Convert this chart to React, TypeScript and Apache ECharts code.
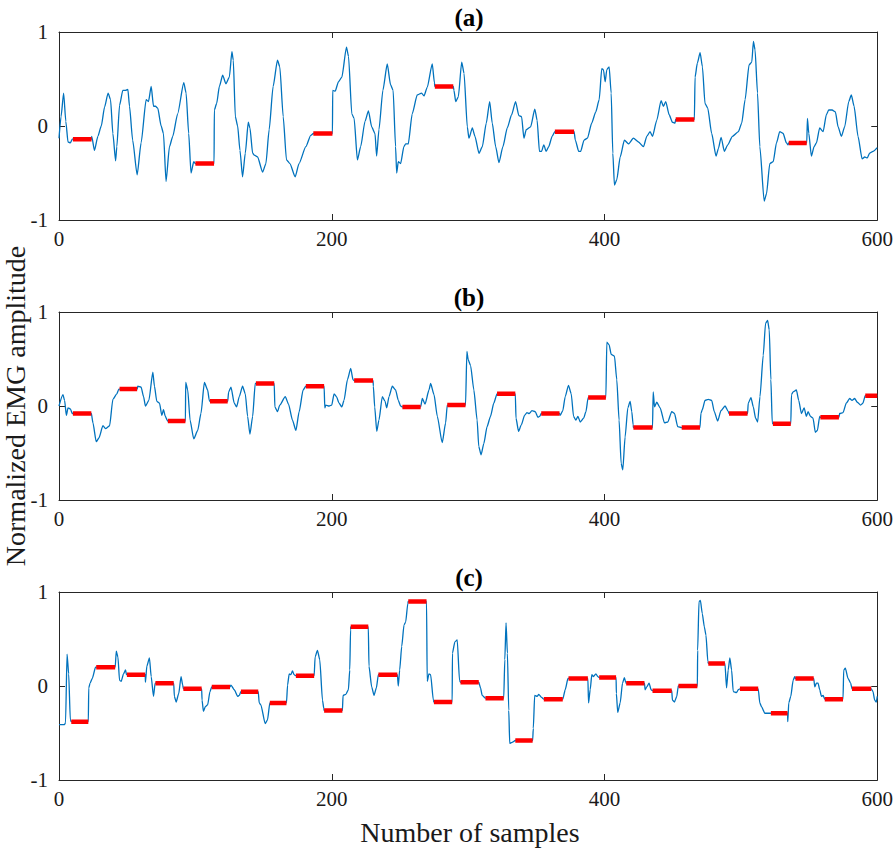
import React, { useEffect, useRef } from "react";
import * as echarts from "echarts";

const panelTitles = ["(a)", "(b)", "(c)"];
const xTitle = "Number of samples";
const yTitle = "Normalized EMG amplitude";
const xRange = [0, 600];
const xStep = 200;
const yRange = [-1, 1];
const yStep = 1;

const blueA: number[][] = [
  [0, -0.13], [1.5, 0.1], [3.4, 0.35], [5, 0.05], [6.6, -0.17], [8.3, -0.18], [9.8, -0.14],
  [10.2, -0.14], [23.9, -0.14],
  [24, -0.11], [26, -0.26], [28.5, -0.11], [31, 0], [33.4, 0.2], [36, 0.35], [37.8, 0.28], [39.5, -0.08], [41.5, -0.37], [42.4, -0.22], [44.4, 0.22], [46.8, 0.38], [48.8, 0.38], [50.5, 0.39], [51.7, 0.21], [54, -0.15], [57.3, -0.52], [60.2, -0.18], [63.9, 0.28], [65.6, 0.26], [67.6, 0.42], [69.3, 0.21], [70.7, 0.21], [72.4, 0.19], [74.9, 0], [76.6, -0.08], [78.5, -0.59], [81, -0.22], [83.4, -0.11], [87, 0.13], [91.5, 0.46], [93.2, 0.35], [95.1, -0.08], [96.8, -0.5], [98.8, -0.38],
  [100, -0.4], [113.7, -0.4],
  [113.9, 0.17], [115.6, 0.24], [117.6, 0.42], [120, 0.54], [122.4, 0.45], [124.9, 0.52], [126.8, 0.79], [127.8, 0.7], [129.3, 0.1], [131, 0], [132.7, -0.26], [134.6, -0.54], [136.6, -0.29], [138.8, 0.04], [140, -0.02], [142, -0.29], [143.2, -0.31], [145.6, -0.33], [149.3, -0.49], [151.7, -0.4], [154.1, -0.04], [157, 0.42], [160.2, 0.7], [161.9, 0.63], [164.4, 0.1], [166.8, -0.36], [169.3, -0.4], [173.2, -0.54], [176, -0.4], [181, -0.22], [184.6, -0.1],
  [186.5, -0.08], [200.5, -0.08],
  [200.7, 0.38], [202.5, 0.37], [204.9, 0.47], [207.4, 0.52], [210.8, 0.84], [212.3, 0.74], [214.7, 0.13], [216.4, 0.08], [218.8, -0.36], [221.2, -0.22], [224.4, 0.05], [226.9, 0.16], [229.3, -0.01], [231.7, -0.08], [232.9, -0.32], [234.6, -0.04], [237.5, 0.38], [240.7, 0.66], [243.1, 0.44], [245, 0.38], [246.8, -0.22], [247.6, -0.5], [248.8, -0.38], [250.5, -0.4], [252.9, -0.22], [254.2, -0.19], [256.1, -0.19], [259, 0.13], [262.7, 0.33], [265.9, 0.35], [267.6, 0.32], [270, 0.41], [273.7, 0.66], [275.3, 0.46],
  [275.6, 0.42], [289.1, 0.42],
  [289.6, 0.38], [290.9, 0.26], [292.8, 0.31], [295.3, 0.68], [297, 0.56], [299.4, -0.01], [300.6, -0.13], [303.1, -0.02], [305, -0.11], [308, -0.29], [310.4, -0.22], [313.3, 0.03], [315.8, 0.26], [317.7, 0.03], [320.2, -0.22], [322.6, -0.39], [325.5, -0.22], [328.7, -0.02], [331.9, 0.12], [334.8, 0.26], [337.2, 0.11], [339.2, 0.1], [340.9, -0.13], [342.6, -0.04], [345.8, -0.01], [348.9, 0.18], [350.6, 0.06], [352.3, -0.27], [353.8, -0.27], [355.5, -0.2], [357.2, -0.27], [359.1, -0.22], [361.6, -0.11],
  [363.6, -0.06], [377.7, -0.06],
  [378.6, -0.15], [381.1, -0.27], [382.5, -0.27], [385, -0.15], [387.5, -0.13], [390.6, 0.03], [393.6, 0.15], [396.1, 0.28], [398, 0.61], [399.2, 0.6], [400.5, 0.47], [401.7, 0.6], [403.4, 0.63], [404.9, 0.35], [406.1, -0.29], [407.3, -0.63], [409, -0.57], [411.5, -0.33], [414.6, -0.15], [417.6, -0.19], [421.2, -0.13], [424.9, -0.17], [428.6, -0.22], [431, -0.11], [433.4, -0.06], [435.2, -0.11], [438.3, 0.06], [441.5, 0.27], [443.2, 0.21], [444.9, 0.26], [447.4, 0.12], [449.8, 0.04], [451.7, 0.03],
  [452.2, 0.07], [465.9, 0.07],
  [466.4, 0.52], [468.1, 0.67], [470.1, 0.78], [471.8, 0.63], [473.7, 0.24], [475.7, 0.19], [478.6, -0.08], [481.8, -0.32], [483.5, -0.24], [485.5, -0.12], [487.9, -0.27], [490.4, -0.2], [493.8, -0.11], [498.2, -0.06], [500.6, 0.03], [503.1, 0.28], [506, 0.65], [508, 0.68], [509.2, 0.9], [510.4, 0.81], [512.2, 0.35], [513.9, -0.22], [517.1, -0.8], [518.8, -0.72], [521.2, -0.4], [523.7, -0.38], [526.1, -0.18], [528.5, -0.06], [531, -0.08], [533.4, -0.18], [534.6, -0.2],
  [535.1, -0.18], [548.3, -0.18],
  [548.8, 0.08], [549.8, -0.08], [551.7, -0.32], [553.7, -0.22], [555.4, -0.18], [557.8, -0.02], [560.3, -0.06], [562.7, 0.12], [564.4, 0.17], [566.9, 0.17], [569.3, 0.15], [571.3, -0.01], [573.7, -0.11], [576.1, -0.01], [579.1, 0.26], [581, 0.33], [583, 0.21], [585.9, -0.11], [588.9, -0.35], [590.8, -0.33], [592.7, -0.34], [594.4, -0.29], [596.9, -0.27], [600, -0.23],
];

const redA: number[][] = [
  [10.2, 23.9, -0.14], [100, 113.7, -0.4], [186.5, 200.5, -0.08], [275.6, 289.1, 0.42],
  [363.6, 377.7, -0.06], [452.2, 465.9, 0.07], [535.1, 548.3, -0.18],
];

const blueB: number[][] = [
  [0, 0], [2.9, 0.12], [4.1, 0.06], [5.4, -0.1], [6.6, -0.02], [8.3, -0.03], [9.8, -0.08],
  [10.2, -0.08], [23.7, -0.08],
  [24.9, -0.18], [27.3, -0.38], [29.3, -0.34], [32.2, -0.21], [34.1, -0.24], [37.1, -0.21], [39.5, 0.07], [42.4, 0.13], [43.9, 0.18],
  [44.4, 0.18], [57.3, 0.18],
  [57.8, 0.21], [60.2, 0.2], [62, 0.1], [63.4, 0], [65.9, 0.06], [68.8, 0.36], [70, 0.21], [71.7, 0.05], [73.7, 0.03], [75.4, -0.1], [76.6, -0.04], [78, -0.11], [79.3, -0.15],
  [79.8, -0.16], [92.7, -0.16],
  [92.9, 0.25], [94.4, 0.17], [96.1, -0.15], [98.8, -0.35], [101.7, -0.26], [104.1, -0.08], [106.6, 0.25], [109, 0.17], [110.2, 0.06],
  [110.7, 0.05], [123.7, 0.05],
  [124.4, 0.15], [126.1, 0.2], [128.5, 0.03], [130.2, -0.01], [132.2, 0.1], [134.6, 0.21], [136.6, 0.13], [138.3, -0.11], [140, -0.3], [142, -0.11], [143.9, 0.24],
  [144.4, 0.24], [157.8, 0.24],
  [158.3, -0.01], [160.2, -0.06], [161.9, 0.01], [165.9, 0.1], [168.3, 0.02], [171.2, -0.15], [173.7, -0.26], [176.1, -0.06], [179, 0.17],
  [181, 0.21], [194.4, 0.21],
  [194.9, -0.02], [195.6, 0.01], [198.1, 0], [200, 0.01], [201.7, 0.13], [203.4, 0.1], [205.4, 0.03], [207.4, -0.01], [209, 0.06], [211.5, 0.28], [213.9, 0.4], [215.6, 0.28],
  [216.4, 0.27], [230.3, 0.27],
  [230.5, 0.21], [231.5, -0.01], [233, -0.27], [234.6, -0.15], [237.1, 0.1], [239.1, 0.05], [240.3, -0.02], [242, 0.1], [244.4, 0.21], [246.8, 0.17], [248.8, 0.06], [250.5, 0],
  [251.8, -0.01], [265.2, -0.01],
  [266.4, 0.08], [268.4, 0.02], [271.3, 0.17], [272.5, 0.24], [275, 0.12], [277.4, -0.11], [281, -0.39], [283.5, -0.18],
  [284.7, 0.01], [298.1, 0.01],
  [299.1, 0.58], [300.1, 0.49], [301.8, 0.43], [304.2, 0.17], [306.6, -0.15], [307.8, -0.43], [309.5, -0.52], [311.5, -0.4], [313.9, -0.22], [316.4, -0.11], [318.8, 0.03],
  [321.2, 0.13], [334.6, 0.13],
  [335.1, -0.13], [337, -0.27], [339, -0.2], [341.4, -0.1], [343.1, -0.07], [344.8, -0.08], [346.8, -0.05], [349.2, -0.06], [351.2, -0.12], [352.5, -0.11],
  [353.6, -0.08], [367, -0.08],
  [367.5, -0.1], [369.4, -0.05], [371.2, 0.1], [373.6, 0.22], [375.6, 0.13], [377.3, -0.11], [379, -0.15], [380.5, -0.11], [382.2, -0.17], [384.7, -0.13], [386.4, -0.06],
  [388, 0.09], [401, 0.09],
  [401.7, 0.68], [403.4, 0.65], [404.9, 0.55], [407.3, 0.53], [409, 0.28], [410.7, -0.15], [412.2, -0.61], [413.4, -0.68], [415.1, -0.33], [417.1, -0.02], [418.8, 0.05], [420, -0.06], [421, -0.2],
  [421.2, -0.23], [435.2, -0.23],
  [435.7, 0.15], [436.7, -0.01], [438.3, 0.04], [440.8, -0.02], [444, -0.18], [446.4, -0.17], [449.3, -0.06], [451.3, -0.08], [453.7, -0.22],
  [456.6, -0.23], [470, -0.23],
  [470.7, -0.08], [471.7, -0.04], [473.7, 0.06], [476.1, 0.07], [478.6, 0.06], [480.5, -0.06], [483, -0.16], [485.4, -0.05], [488.4, 0], [490.8, -0.06],
  [491.3, -0.08], [504.9, -0.08],
  [505.4, 0.03], [507.4, 0.09], [509.1, -0.01], [510.8, -0.13], [512.3, -0.17], [514, 0.1], [516.4, 0.54], [518.1, 0.88], [519.6, 0.91], [520.8, 0.81], [522, 0.28], [523, -0.18],
  [523.5, -0.19], [536.6, -0.19],
  [537.1, 0.12], [538.3, 0.15], [540.7, 0.17], [542.4, 0.06], [544.4, -0.08], [546.4, -0.02], [548, -0.11], [549.3, -0.06], [551, -0.11], [552.9, -0.13], [554.6, -0.28], [556.1, -0.26], [557.8, -0.11],
  [558.3, -0.12], [571.9, -0.12],
  [572.4, -0.08], [574.9, -0.07], [577.3, 0.03], [579.8, 0.08], [581.5, 0.06], [583.4, 0.08], [585.4, 0.04], [587.8, 0.01], [589.5, 0.03], [591.2, 0.11],
  [600, 0.11],
];

const redB: number[][] = [
  [10.2, 23.7, -0.08], [44.4, 57.3, 0.18], [79.8, 92.7, -0.16], [110.7, 123.7, 0.05],
  [144.4, 157.8, 0.24], [181, 194.4, 0.21], [216.4, 230.3, 0.27], [251.8, 265.2, -0.01],
  [284.7, 298.1, 0.01], [321.2, 334.6, 0.13], [353.6, 367, -0.08], [388, 401, 0.09],
  [421.2, 435.2, -0.23], [456.6, 470, -0.23], [491.3, 504.9, -0.08], [523.5, 536.6, -0.19],
  [558.3, 571.9, -0.12], [591.2, 600, 0.11],
];

const blueC: number[][] = [
  [0, -0.41], [4.1, -0.41], [4.8, -0.39], [5.9, 0.34], [7.1, 0.13], [8.3, -0.36],
  [9, -0.38], [21.5, -0.38],
  [21.8, -0.02], [22.8, 0.03], [24.4, 0.08], [26.8, 0.2],
  [27.3, 0.2], [41.2, 0.2],
  [42, 0.37], [43.2, 0.31], [44.4, 0.06], [45.6, 0.05], [47.3, 0.13], [48.8, 0.17], [49.5, 0.12],
  [49.8, 0.12], [63.2, 0.12],
  [63.4, 0.04], [64.4, 0.21], [66.3, 0.3], [67.6, 0.1], [69.3, -0.11], [70.5, 0.03],
  [70.7, 0.03], [84.1, 0.03],
  [84.6, -0.11], [85.9, -0.17], [87.8, -0.08], [89.5, 0.1], [90.7, 0.01],
  [91.2, -0.03], [104.6, -0.03],
  [104.9, -0.15], [105.9, -0.27], [107.3, -0.22], [109, -0.2], [110.7, -0.06],
  [112, -0.01], [125.4, -0.01],
  [126.1, 0.01], [128.5, -0.04], [131, -0.11], [132.2, -0.1],
  [133.4, -0.06], [146.1, -0.06],
  [146.8, -0.18], [148, -0.2], [151.2, -0.4], [152.9, -0.36],
  [154.6, -0.18], [166.8, -0.18],
  [167.6, 0.01], [168.8, 0.13], [170, 0.12], [171.2, 0.16], [172.4, 0.12],
  [173.7, 0.11], [187.1, 0.11],
  [187.8, 0.31], [189.5, 0.38], [191.2, 0.28], [193.2, -0.15], [194.2, -0.24],
  [194.4, -0.26], [207.8, -0.26],
  [208.3, -0.1], [210.3, -0.09], [212.2, -0.04], [213.2, 0.17], [213.8, 0.6],
  [213.9, 0.63], [226.8, 0.63],
  [227.3, 0.21], [229.3, -0.01], [231, -0.1], [232.7, -0.02],
  [234.2, 0.12], [248.1, 0.12],
  [248.8, 0], [249.8, 0.17], [251.3, 0.42], [253, 0.65], [254.2, 0.68], [255.8, 0.88],
  [256.1, 0.9], [269.5, 0.9],
  [270, 0.05], [271.3, 0.13], [272.5, 0.12], [274.5, -0.15],
  [274.9, -0.17], [288.3, -0.17],
  [288.5, 0.35], [290.3, 0.47], [292, 0.49], [293.7, 0.06],
  [294.4, 0.04], [307.8, 0.04],
  [309.1, -0.02], [310.3, -0.1],
  [312.7, -0.13], [326.1, -0.13],
  [326.9, 0.28], [327.8, 0.67], [328.8, 0.35], [329.8, -0.26], [330.5, -0.61], [332.2, -0.6],
  [334.6, -0.58], [347.3, -0.58],
  [347.8, -0.45], [348.8, -0.1], [350.6, -0.11], [351.8, -0.09], [353.8, -0.12],
  [355.5, -0.14], [369.4, -0.14],
  [371.2, -0.04], [373.2, 0.08],
  [373.6, 0.08], [387.8, 0.08],
  [388.3, -0.18], [389.5, -0.04], [390.7, 0.12], [391.9, 0.1], [393.7, 0.13], [395.1, 0.1],
  [396.1, 0.09], [408.5, 0.09],
  [408.7, -0.08], [409.7, -0.28], [411.5, -0.18], [413.2, 0.03], [414.6, 0.09], [415.5, 0.04],
  [415.9, 0.03], [429.3, 0.03],
  [429.8, -0.04], [431, -0.01], [432.7, 0.03], [434.2, -0.04],
  [435.2, -0.05], [449.3, -0.05],
  [449.8, -0.15], [451.3, -0.17], [453, -0.11], [454, -0.01],
  [454.2, 0], [468.1, 0],
  [468.3, 0.38], [469.3, 0.9], [470.3, 0.91], [471.7, 0.77], [473.2, 0.63], [474.4, 0.54], [475.8, 0.26],
  [476.1, 0.24], [488.3, 0.24],
  [489.5, -0.02], [490.7, 0.17], [491.9, 0.3], [493.2, 0.17], [494.4, -0.06], [496.8, -0.07], [498.1, -0.04],
  [499.3, -0.03], [512.7, -0.03],
  [513.9, -0.18], [515.1, -0.22], [517.6, -0.29],
  [522, -0.29], [534.2, -0.29],
  [534.4, -0.38], [535.1, -0.18], [536.6, -0.11], [538.3, 0.06], [539.5, 0.1],
  [540, 0.08], [553.4, 0.08],
  [554.2, -0.01], [555.4, 0.03], [556.6, 0.03], [557.8, -0.04], [559.1, -0.11], [560.3, -0.1],
  [561.5, -0.14], [574.9, -0.14],
  [575.4, 0.17], [576.6, 0.19], [578.6, 0.08], [580.5, 0.03],
  [581.5, -0.03], [595.6, -0.03],
  [596.9, -0.06], [598.1, -0.15], [599.3, -0.17], [600, -0.11],
];

const redC: number[][] = [
  [9, 21.5, -0.38], [27.3, 41.2, 0.2], [49.8, 63.2, 0.12], [70.7, 84.1, 0.03],
  [91.2, 104.6, -0.03], [112, 125.4, -0.01], [133.4, 146.1, -0.06], [154.6, 166.8, -0.18],
  [173.7, 187.1, 0.11], [194.4, 207.8, -0.26], [213.9, 226.8, 0.63], [234.2, 248.1, 0.12],
  [256.1, 269.5, 0.9], [274.9, 288.3, -0.17], [294.4, 307.8, 0.04], [312.7, 326.1, -0.13],
  [334.6, 347.3, -0.58], [355.5, 369.4, -0.14], [373.6, 387.8, 0.08], [396.1, 408.5, 0.09],
  [415.9, 429.3, 0.03], [435.2, 449.3, -0.05], [454.2, 468.1, 0], [476.1, 488.3, 0.24],
  [499.3, 512.7, -0.03], [522, 534.2, -0.29], [540, 553.4, 0.08], [561.5, 574.9, -0.14],
  [581.5, 595.6, -0.03],
];

const blues = [blueA, blueB, blueC];
const reds = [redA, redB, redC];

const FONT = "Liberation Serif";
const AXIS_COLOR = "#262626";
const TEXT_COLOR = "#1a1a1a";
const GRID_LEFT = 59;
const GRID_WIDTH = 820;
const GRID_HEIGHT = 188;
const GRID_TOPS = [32, 312, 592];

export default function App() {
  const ref = useRef<HTMLDivElement>(null);

  useEffect(() => {
    if (!ref.current) return;
    const chart = echarts.init(ref.current, null, { renderer: "svg" });

    const grid: any[] = [];
    const xAxis: any[] = [];
    const yAxis: any[] = [];
    const series: any[] = [];
    const graphic: any[] = [];

    const lineStyle = { color: AXIS_COLOR, width: 1 };
    const labelStyle = { fontFamily: FONT, fontSize: 21, color: TEXT_COLOR, fontWeight: "normal" };

    for (let i = 0; i < 3; i++) {
      grid.push({ left: GRID_LEFT, top: GRID_TOPS[i], width: GRID_WIDTH, height: GRID_HEIGHT });
      const baseX = {
        type: "value",
        gridIndex: i,
        min: xRange[0],
        max: xRange[1],
        interval: xStep,
        splitLine: { show: false },
        axisLine: { show: true, onZero: false, lineStyle },
        axisTick: { show: true, inside: true, length: 6, lineStyle },
      };
      xAxis.push({
        ...baseX,
        position: "bottom",
        axisLabel: { show: true, ...labelStyle, margin: 8 },
      });
      xAxis.push({ ...baseX, position: "top", axisLabel: { show: false } });
      const baseY = {
        type: "value",
        gridIndex: i,
        min: yRange[0],
        max: yRange[1],
        interval: yStep,
        splitLine: { show: false },
        axisLine: { show: true, onZero: false, lineStyle },
        axisTick: { show: true, inside: true, length: 6, lineStyle },
      };
      yAxis.push({
        ...baseY,
        position: "left",
        axisLabel: { show: true, ...labelStyle, margin: 11 },
      });
      yAxis.push({ ...baseY, position: "right", axisLabel: { show: false } });

      series.push({
        type: "line",
        xAxisIndex: 2 * i,
        yAxisIndex: 2 * i,
        data: blues[i],
        showSymbol: false,
        symbol: "none",
        smooth: 0.2,
        smoothMonotone: "x",
        lineStyle: { color: "#0072BD", width: 1.3 },
        z: 2,
        silent: true,
      });

      const redData: any[] = [];
      reds[i].forEach((s) => {
        redData.push([s[0], s[2]]);
        redData.push([s[1], s[2]]);
        redData.push([s[1], "-"]);
      });
      series.push({
        type: "line",
        xAxisIndex: 2 * i,
        yAxisIndex: 2 * i,
        data: redData,
        connectNulls: false,
        showSymbol: false,
        symbol: "none",
        lineStyle: { color: "#FF0000", width: 4.5, cap: "butt" },
        z: 3,
        silent: true,
      });

      graphic.push({
        type: "text",
        x: GRID_LEFT + GRID_WIDTH / 2,
        y: GRID_TOPS[i] - 15,
        style: {
          text: panelTitles[i],
          fontFamily: FONT,
          fontSize: 25,
          fontWeight: "bold",
          fill: "#000",
          align: "center",
          verticalAlign: "middle",
        },
      });
    }

    graphic.push({
      type: "text",
      x: 470,
      y: 832,
      style: {
        text: xTitle,
        fontFamily: FONT,
        fontSize: 28,
        fill: TEXT_COLOR,
        align: "center",
        verticalAlign: "middle",
      },
    });
    graphic.push({
      type: "text",
      x: 15,
      y: 406,
      rotation: Math.PI / 2,
      style: {
        text: yTitle,
        fontFamily: FONT,
        fontSize: 28,
        fill: TEXT_COLOR,
        align: "center",
        verticalAlign: "middle",
      },
    });

    chart.setOption({
      animation: false,
      backgroundColor: "#ffffff",
      grid,
      xAxis,
      yAxis,
      series,
      graphic,
    });

    return () => chart.dispose();
  }, []);

  return (
    <div
      ref={ref}
      style={{ position: "absolute", left: 0, top: 0, width: 896, height: 850 }}
    />
  );
}
